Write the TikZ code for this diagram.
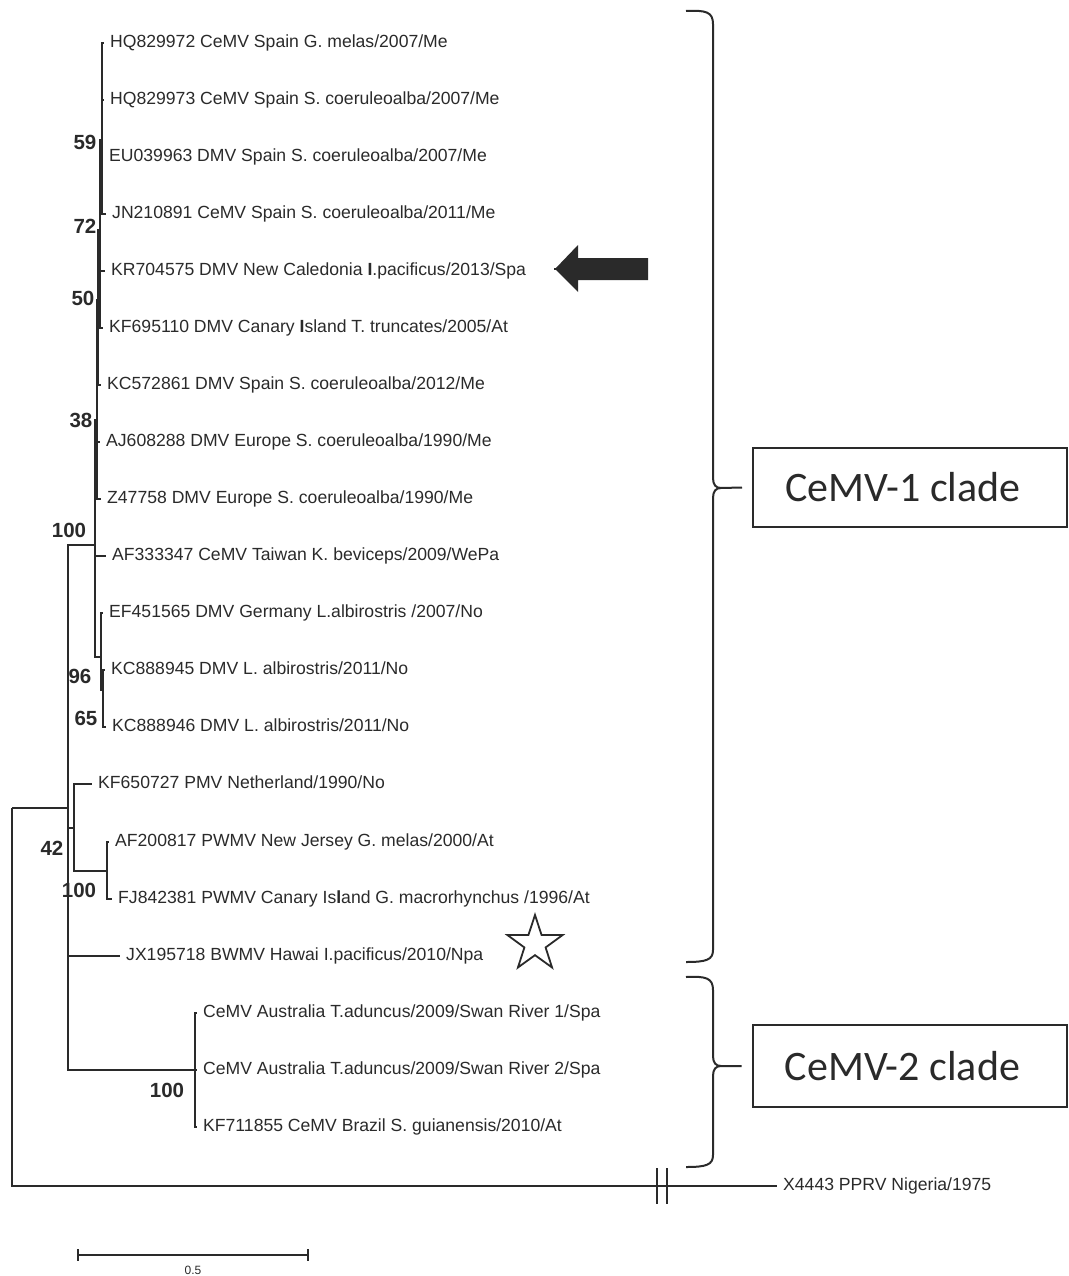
\documentclass[tikz,border=0pt]{standalone}
\usepackage{fontspec}
\setmainfont{Liberation Sans}
\newfontfamily\cladefont{Carlito}
\usetikzlibrary{shapes.geometric}
\definecolor{ink}{HTML}{2A2A2A}

\begin{document}
\begin{tikzpicture}[x=1pt,y=-1pt,
  br/.style={draw=ink,line width=1.3pt},
  tip/.style={anchor=west,inner xsep=6pt,inner ysep=0pt,text height=12.5pt,text depth=3.7pt,
    font=\fontsize{17.6}{20}\selectfont,text=ink},
  bs/.style={inner sep=0pt,font=\fontsize{20.5}{23}\selectfont\bfseries,text=ink},
  clade/.style={draw=ink,line width=2pt,inner sep=0pt,minimum width=314pt,
    font=\cladefont\fontsize{42}{45}\selectfont,text=ink}]
  \useasboundingbox (0,0) rectangle (1068,1276);

  \node[tip] (a) at (104,43) {HQ829972 CeMV Spain G. melas/2007/Me};
  \node[tip] (b) at (104,100) {HQ829973 CeMV Spain S. coeruleoalba/2007/Me};
  \node[tip] (c) at (103,157) {EU039963 DMV Spain S. coeruleoalba/2007/Me};
  \node[tip] (d) at (106,214) {JN210891 CeMV Spain S. coeruleoalba/2011/Me};
  \node[tip] (e) at (105,271) {KR704575 DMV New Caledonia \textbf{I}.pacificus/2013/Spa};
  \node[tip] (f) at (103,328) {KF695110 DMV Canary \textbf{I}sland T. truncates/2005/At};
  \node[tip] (g) at (101,385) {KC572861 DMV Spain S. coeruleoalba/2012/Me};
  \node[tip] (h) at (100,442) {AJ608288 DMV Europe S. coeruleoalba/1990/Me};
  \node[tip] (i) at (101,499) {Z47758 DMV Europe S. coeruleoalba/1990/Me};
  \node[tip] (j) at (106,556) {AF333347 CeMV Taiwan K. beviceps/2009/WePa};
  \node[tip] (k) at (103,613) {EF451565 DMV Germany L.albirostris /2007/No};
  \node[tip] (l) at (105,670) {KC888945 DMV L. albirostris/2011/No};
  \node[tip] (m) at (106,727) {KC888946 DMV L. albirostris/2011/No};
  \node[tip] (n) at (92,784) {KF650727 PMV Netherland/1990/No};
  \node[tip] (o) at (109,842) {AF200817 PWMV New Jersey G. melas/2000/At};
  \node[tip] (p) at (112,899) {FJ842381 PWMV Canary Is\textbf{l}and G. macrorhynchus /1996/At};
  \node[tip] (q) at (120,956) {JX195718 BWMV Hawai I.pacificus/2010/Npa};
  \node[tip] (r) at (197,1013) {CeMV Australia T.aduncus/2009/Swan River 1/Spa};
  \node[tip] (s) at (197,1070) {CeMV Australia T.aduncus/2009/Swan River 2/Spa};
  \node[tip] (t) at (197,1127) {KF711855 CeMV Brazil S. guianensis/2010/At};
  \node[tip] (u) at (777,1186) {X4443 PPRV Nigeria/1975};

  \coordinate (rt) at (12,808);
  \coordinate (ig) at (68,808);
  \coordinate (n100) at (95,545);
  \coordinate (n38) at (97,420);
  \coordinate (n50) at (98,300);
  \coordinate (n72) at (100,230);
  \coordinate (n59) at (102,140);
  \coordinate (n96) at (101,657);
  \coordinate (n65) at (103,690);
  \coordinate (n42) at (74,828);
  \coordinate (n100b) at (107,871);
  \coordinate (n100c) at (195,1070);

  \node[bs] (b59) at (85,142) {59};
  \node[bs] (b72) at (85,226) {72};
  \node[bs] (b50) at (83,298) {50};
  \node[bs] (b38) at (81,420) {38};
  \node[bs] (b100) at (69,530) {100};
  \node[bs] (b96) at (80,676) {96};
  \node[bs] (b65) at (86,718) {65};
  \node[bs] (b42) at (52,848) {42};
  \node[bs] (b100b) at (79,890) {100};
  \node[bs] (b100c) at (167,1090) {100};

  \draw[br] (n59) |- (a.west) (n59) |- (b.west) (n59) |- (c.west) (n59) |- (d.west);
  \draw[br] (n72) |- (n59) (n72) |- (e.west) (n72) |- (f.west);
  \draw[br] (n50) |- (n72) (n50) |- (g.west);
  \draw[br] (n38) |- (n50) (n38) |- (h.west) (n38) |- (i.west);
  \draw[br] (n100) |- (n38) (n100) |- (j.west) (n100) |- (n96);
  \draw[br] (n96) |- (k.west) (n96) |- (n65);
  \draw[br] (n65) |- (l.west) (n65) |- (m.west);
  \draw[br] (n100b) |- (o.west) (n100b) |- (p.west);
  \draw[br] (n42) |- (n.west) (n42) |- (n100b);
  \draw[br] (n100c) |- (r.west) (n100c) |- (s.west) (n100c) |- (t.west);
  \draw[br] (ig) |- (n100) (ig) |- (n42) (ig) |- (q.west) (ig) |- (n100c);
  \draw[br] (rt) |- (ig) (rt) |- (u.west);

  \coordinate (k1) at (657,1186);
  \coordinate (k2) at (667,1186);
  \draw[draw=ink,line width=2.3pt] (k1) ++(0,-18) -- ++(0,36) (k2) ++(0,-18) -- ++(0,36);

  \node[clade,minimum height=79pt] (c1) at (910,487.5) {\hspace*{-14pt}CeMV-1 clade};
  \node[clade,minimum height=82pt] (c2) at (909.5,1066) {\hspace*{-14pt}CeMV-2 clade};

  \draw[draw=ink,line width=2pt] (686,11) .. controls (706,10) and (713,12) .. (713,24)
    -- (713,478) .. controls (713,485) and (716,488) .. (721,488) -- ([xshift=-10pt]c1.west)
    (721,488) .. controls (716,488) and (713,491) .. (713,498)
    -- (713,950) .. controls (713,960) and (706,962) .. (686,962);
  \draw[draw=ink,line width=2pt] (686,977) .. controls (706,976) and (713,978) .. (713,990)
    -- (713,1056) .. controls (713,1063) and (716,1066) .. (721,1066) -- ([xshift=-10pt]c2.west)
    (721,1066) .. controls (716,1066) and (713,1069) .. (713,1076)
    -- (713,1155) .. controls (713,1165) and (706,1167) .. (686,1167);

  \node[draw=ink,fill=ink,inner sep=0pt] (ar) at (555,269) {};
  \fill[ink] (ar.center) -- (578,245) -- (578,258) -- (648,258) -- (648,280) -- (578,280) -- (578,292) -- cycle;

  \node[star,star points=5,star point ratio=2.6,draw=ink,line width=1.8pt,
    minimum size=58pt,inner sep=0pt] (st) at (535,944) {};

  \coordinate (s1) at (78,1255);
  \coordinate (s2) at (308,1255);
  \draw[draw=ink,line width=1.2pt] (s1) -- (s2) (s1) ++(0,-6) -- ++(0,12) (s2) ++(0,-6) -- ++(0,12);
  \node[anchor=north,inner sep=0pt,font=\fontsize{12}{14}\selectfont,text=ink] (sl) at (193,1266) {0.5};
\end{tikzpicture}
\end{document}
